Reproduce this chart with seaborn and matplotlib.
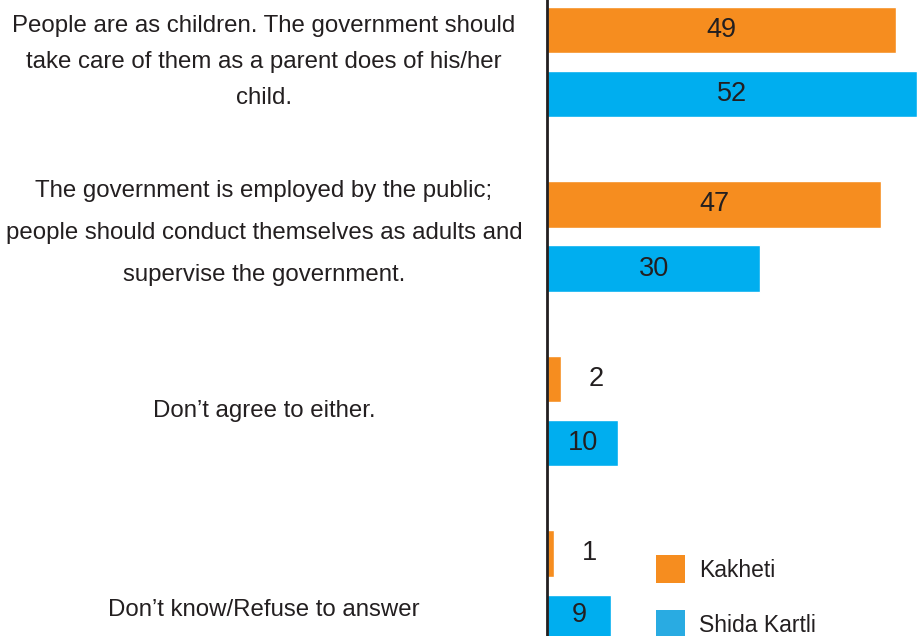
import matplotlib
matplotlib.use("Agg")
import matplotlib.pyplot as plt
import matplotlib.transforms as mtransforms
from matplotlib.patches import Patch
import seaborn as sns
import pandas as pd

# ---- data ----
categories = [
    "People are as children. The government should\ntake care of them as a parent does of his/her\nchild.",
    "The government is employed by the public;\npeople should conduct themselves as adults and\nsupervise the government.",
    "Don\u2019t agree to either.",
    "Don\u2019t know/Refuse to answer",
]
regions = ["Kakheti", "Shida Kartli"]
kakheti = [49, 47, 2, 1]
shida_kartli = [52, 30, 10, 9]

# ---- styles ----
bar_colors = ["#F68D1F", "#00AEEF"]
legend_colors = ["#F68D1F", "#29ABE2"]
text_color = "#231f20"
label_linespacing = [1.85, 2.15, 1.5, 1.5]
label_offsets = [0.0, -0.02, 0.0, 0.14]

df = pd.DataFrame({
    "category": categories * 2,
    "region": [regions[0]] * len(categories) + [regions[1]] * len(categories),
    "value": kakheti + shida_kartli,
})

sns.set_theme(style="white")
plt.rcParams["font.family"] = ["Liberation Sans", "DejaVu Sans"]

W, H = 917, 636
fig = plt.figure(figsize=(W / 100, H / 100), dpi=100)
ax = fig.add_axes([547 / W, 0, 1 - 547 / W, 1])

sns.barplot(data=df, y="category", x="value", hue="region", order=categories,
            hue_order=regions, palette=bar_colors, orient="h", width=0.736,
            gap=0.28, legend=False, ax=ax, saturation=1, errorbar=None)

ax.set_xlim(0, 52)
ax.set_ylim(3.289, -0.355)
for s in ["top", "right", "bottom"]:
    ax.spines[s].set_visible(False)
ax.spines["left"].set_color(text_color)
ax.spines["left"].set_linewidth(2)
ax.set_xticks([])
ax.set_yticks([])
ax.set_xlabel("")
ax.set_ylabel("")

# value labels
for cont in ax.containers:
    vals = [b.get_width() for b in cont]
    inner = [f"{v:g}" if v >= 5 else "" for v in vals]
    outer = [f"{v:g}" if v < 5 else "" for v in vals]
    ax.bar_label(cont, labels=inner, label_type="center", fontsize=19.5, color=text_color)
    ax.bar_label(cont, labels=outer, label_type="edge", padding=20, fontsize=19.5, color=text_color)

# category labels
trans = mtransforms.blended_transform_factory(fig.transFigure, ax.transData)
for i, (cat, ls, off) in enumerate(zip(categories, label_linespacing, label_offsets)):
    ax.text(264 / W, i + off, cat, transform=trans, ha="center", va="center",
            multialignment="center", fontsize=17.3, color=text_color, linespacing=ls,
            clip_on=False)

handles = [Patch(facecolor=c, edgecolor="none", label=r) for c, r in zip(legend_colors, regions)]
fs = 16.5
ax.legend(handles=handles, loc="upper left", bbox_to_anchor=(656 / W, 1 - 555 / H),
          bbox_transform=fig.transFigure, frameon=False, fontsize=fs,
          handlelength=1.27, handleheight=1.5, handletextpad=0.6,
          labelspacing=1.2, borderpad=0, borderaxespad=0, labelcolor=text_color)

fig.savefig("out.png", dpi=100)
